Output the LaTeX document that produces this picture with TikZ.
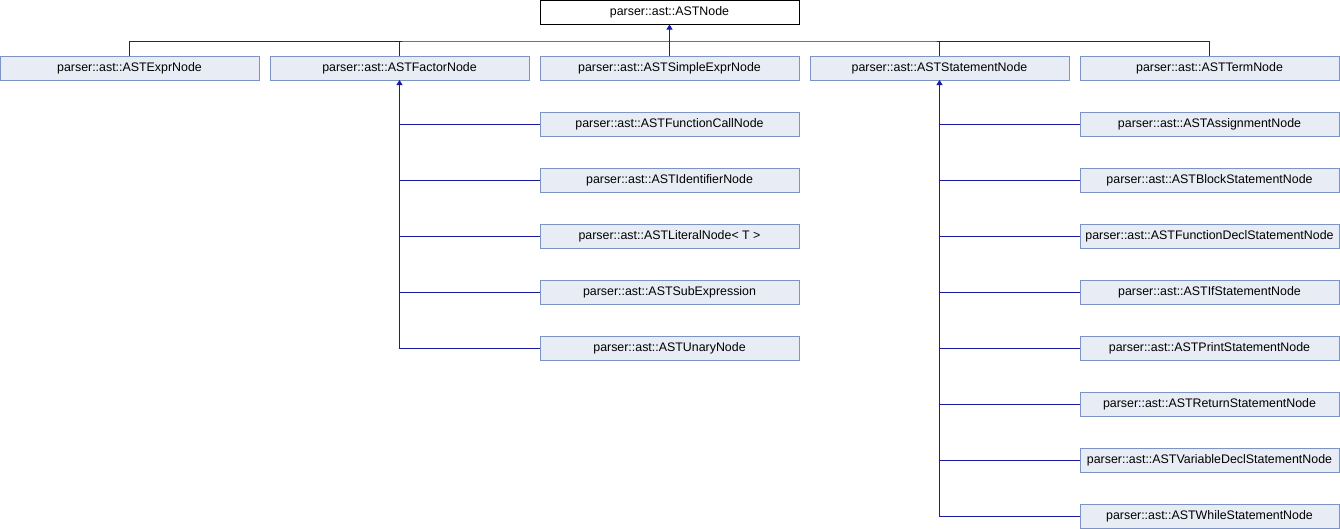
\documentclass[tikz,border=0pt]{standalone}
\usepackage{fontspec}
\setmainfont{Liberation Sans}
\usepackage{tikz}
\usetikzlibrary{positioning,arrows.meta}
\definecolor{boxfill}{HTML}{E8ECF5}
\definecolor{boxline}{HTML}{7D93C6}
\definecolor{linkblue}{HTML}{1A1AA0}

\begin{document}
\begin{tikzpicture}[
    box/.style={draw=boxline, fill=boxfill, line width=1pt, minimum width=259pt, minimum height=24pt, inner sep=0pt, outer sep=0pt, font=\fontsize{12.4}{14}\selectfont},
    rootbox/.style={box, draw=black, fill=white},
    link/.style={draw=linkblue, line width=1pt},
    arr/.style={link, -{Triangle[length=5pt, width=6pt]}},
    node distance=32pt and 11pt
]
\useasboundingbox (0,0) rectangle (1340pt,-528pt);

\node[rootbox] (root) at (669.5pt,-12.5pt) {parser::ast::ASTNode};

% first level
\node[box] (expr) at (129.5pt,-68pt) {parser::ast::ASTExprNode};
\node[box, right=of expr] (factor) {parser::ast::ASTFactorNode};
\node[box, right=of factor] (simple) {parser::ast::ASTSimpleExprNode};
\node[box, right=of simple] (stmt) {parser::ast::ASTStatementNode};
\node[box, right=of stmt] (term) {parser::ast::ASTTermNode};

% factor subclasses
\node[box, below=of simple] (call) {parser::ast::ASTFunctionCallNode};
\node[box, below=of call] (ident) {parser::ast::ASTIdentifierNode};
\node[box, below=of ident] (literal) {parser::ast::ASTLiteralNode< T >};
\node[box, below=of literal] (subexpr) {parser::ast::ASTSubExpression};
\node[box, below=of subexpr] (unary) {parser::ast::ASTUnaryNode};

% statement subclasses
\node[box, below=of term] (assign) {parser::ast::ASTAssignmentNode};
\node[box, below=of assign] (block) {parser::ast::ASTBlockStatementNode};
\node[box, below=of block] (fundecl) {parser::ast::ASTFunctionDeclStatementNode};
\node[box, below=of fundecl] (ifstmt) {parser::ast::ASTIfStatementNode};
\node[box, below=of ifstmt] (print) {parser::ast::ASTPrintStatementNode};
\node[box, below=of print] (ret) {parser::ast::ASTReturnStatementNode};
\node[box, below=of ret] (vardecl) {parser::ast::ASTVariableDeclStatementNode};
\node[box, below=of vardecl] (while) {parser::ast::ASTWhileStatementNode};

% inheritance to ASTNode
\coordinate (bus) at (669.5pt,-41pt);
\draw[link] (expr.north) |- (bus) -| (term.north);
\draw[link] (factor.north) -- (factor.north |- bus);
\draw[link] (stmt.north) -- (stmt.north |- bus);
\draw[arr] (simple.north) -- (root.south);

% inheritance to ASTFactorNode
\draw[link] (call.west) -- (call.west -| factor.south);
\draw[link] (ident.west) -- (ident.west -| factor.south);
\draw[link] (literal.west) -- (literal.west -| factor.south);
\draw[link] (subexpr.west) -- (subexpr.west -| factor.south);
\draw[arr] (unary.west) -| (factor.south);

% inheritance to ASTStatementNode
\draw[link] (assign.west) -- (assign.west -| stmt.south);
\draw[link] (block.west) -- (block.west -| stmt.south);
\draw[link] (fundecl.west) -- (fundecl.west -| stmt.south);
\draw[link] (ifstmt.west) -- (ifstmt.west -| stmt.south);
\draw[link] (print.west) -- (print.west -| stmt.south);
\draw[link] (ret.west) -- (ret.west -| stmt.south);
\draw[link] (vardecl.west) -- (vardecl.west -| stmt.south);
\draw[arr] (while.west) -| (stmt.south);
\end{tikzpicture}
\end{document}
